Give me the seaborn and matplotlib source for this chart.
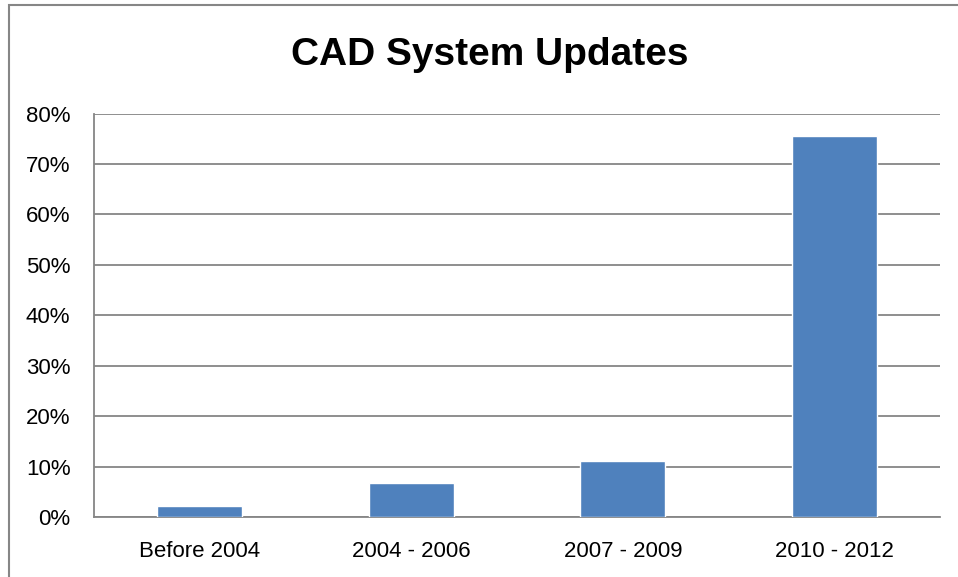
import matplotlib
matplotlib.use("Agg")
import matplotlib.pyplot as plt
import matplotlib.patches as mpatches
from matplotlib.ticker import PercentFormatter, MultipleLocator
import seaborn as sns
import pandas as pd

categories = ["Before 2004", "2004 - 2006", "2007 - 2009", "2010 - 2012"]
values = [2.2, 6.7, 11.1, 75.6]
title = "CAD System Updates"

sns.set_theme(style="white")
plt.rcParams["font.family"] = ["Liberation Sans Narrow", "Liberation Sans", "DejaVu Sans"]
plt.rcParams["text.color"] = "black"

df = pd.DataFrame({"period": categories, "pct": values})

fig = plt.figure(figsize=(9.58, 5.77), dpi=100)
ax = fig.add_axes([94/958, 1-517/577, (940-94)/958, (517-113.5)/577])

sns.barplot(data=df, x="period", y="pct", color="#4F81BD", saturation=1,
            width=0.4, ax=ax, zorder=3)

ax.set_ylim(0, 80)
ax.yaxis.set_major_locator(MultipleLocator(10))
ax.yaxis.set_major_formatter(PercentFormatter(decimals=0))
ax.grid(axis="y", color="#868686", linewidth=1.3, zorder=0)
ax.set_axisbelow(True)
ax.set_xlabel("")
ax.set_ylabel("")
for s in ["top", "right"]:
    ax.spines[s].set_visible(False)
for s in ["left", "bottom"]:
    ax.spines[s].set_color("#868686")
    ax.spines[s].set_linewidth(1.3)
ax.tick_params(axis="both", length=0, labelsize=16, colors="black")
ax.tick_params(axis="y", pad=17)
ax.tick_params(axis="x", pad=17)

fig.text(490/958, 1-55/577, title, ha="center", va="center",
         fontsize=28, fontweight="bold", color="black")

# outer chart frame
frame = mpatches.Rectangle((8.5/958, -0.05), 1.1, 1 - 4.5/577 + 0.05,
                           transform=fig.transFigure, fill=False,
                           edgecolor="#868686", linewidth=1.5, zorder=10)
fig.patches.append(frame)

fig.savefig("out.png", dpi=100)
